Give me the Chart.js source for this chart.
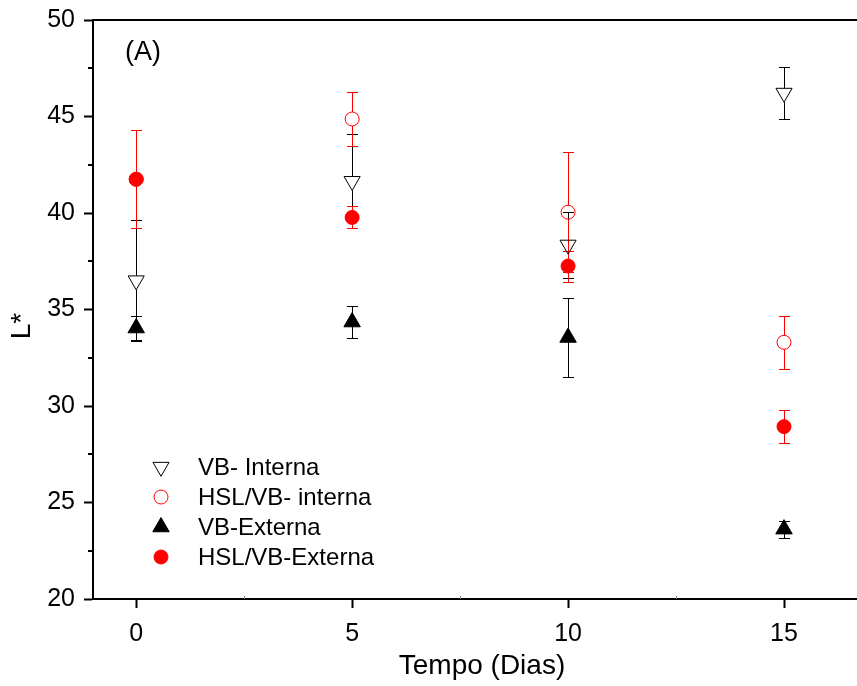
<!DOCTYPE html>
<html><head><meta charset="utf-8">
<script src="https://cdn.jsdelivr.net/npm/chart.js@4.4.1/dist/chart.umd.min.js"></script>
<style>html,body{margin:0;padding:0;background:#fff;overflow:hidden}#wrap{width:857px;height:686px;position:relative}</style>
</head><body><div id="wrap"><canvas id="c" width="857" height="686"></canvas></div>
<script>
// ---- data ----
const days = [0, 5, 10, 15];
const xTicks = [0, 5, 10, 15];
const yTicks = [20, 25, 30, 35, 40, 45, 50];
const seriesNames = ['VB- Interna', 'HSL/VB- interna', 'VB-Externa', 'HSL/VB-Externa'];
const vbInterna = [36.5, 41.65, 38.35, 46.22];
const vbInternaErr = [3.15, 2.43, 1.7, 1.36];
const hslInterna = [41.75, 44.87, 40.04, 33.3];
const hslInternaErr = [2.55, 1.38, 3.1, 1.36];
const vbExterna = [34.04, 34.35, 33.55, 23.62];
const vbExternaErr = [0.62, 0.85, 2.03, 0.44];
const hslExterna = [41.75, 39.77, 37.25, 28.93];
const hslExternaErr = [2.55, 0.57, 0.8, 0.86];
const xTitle = 'Tempo (Dias)';
const yTitle = 'L*';
const panelLabel = '(A)';

// ---- styles ----
const FONT = "'Liberation Sans', Arial, sans-serif";
const styles = [
  {color:'#000000', fill:'rgba(0,0,0,0)', pointStyle:'triangle', rotation:180, radius:9.3, gapUp:4.7, gapDown:9.3, order:3},
  {color:'#ff0000', fill:'rgba(0,0,0,0)', pointStyle:'circle', rotation:0, radius:7, gapUp:7, gapDown:7, order:2},
  {color:'#000000', fill:'#000000', pointStyle:'triangle', rotation:0, radius:9.5, gapUp:0, gapDown:0, order:1},
  {color:'#ff0000', fill:'#ff0000', pointStyle:'circle', rotation:0, radius:7, gapUp:0, gapDown:0, order:0}
];
const values = [vbInterna, hslInterna, vbExterna, hslExterna];
const errors = [vbInternaErr, hslInternaErr, vbExternaErr, hslExternaErr];

const datasets = values.map((vals, k) => ({
  label: seriesNames[k],
  data: days.map((d, i) => ({x: d, y: vals[i]})),
  pointStyle: styles[k].pointStyle,
  rotation: styles[k].rotation,
  pointRadius: styles[k].radius,
  pointHoverRadius: styles[k].radius,
  pointBorderWidth: 1,
  borderColor: styles[k].color,
  backgroundColor: styles[k].fill,
  pointBackgroundColor: styles[k].fill,
  pointBorderColor: styles[k].color,
  showLine: false,
  order: styles[k].order
}));

function drawMarker(ctx, st, x, y) {
  ctx.save();
  ctx.fillStyle = st.fill; ctx.strokeStyle = st.color; ctx.lineWidth = 1;
  ctx.beginPath();
  if (st.pointStyle === 'circle') {
    ctx.arc(x, y, st.radius, 0, Math.PI * 2);
  } else {
    let rad = st.rotation * Math.PI / 180;
    for (let j = 0; j < 3; j++) {
      const px = x + Math.sin(rad) * st.radius, py = y - Math.cos(rad) * st.radius;
      if (j === 0) ctx.moveTo(px, py); else ctx.lineTo(px, py);
      rad += 2 * Math.PI / 3;
    }
    ctx.closePath();
  }
  ctx.fill(); ctx.stroke();
  ctx.restore();
}

const extras = {
  id: 'extras',
  beforeDatasetsDraw(chart) {
    const ctx = chart.ctx, xs = chart.scales.x, ys = chart.scales.y;
    values.forEach((vals, k) => {
      const st = styles[k];
      ctx.save();
      ctx.strokeStyle = st.color; ctx.lineWidth = 1;
      days.forEach((d, i) => {
        const px = Math.round(xs.getPixelForValue(d)) + 0.5;
        const py = ys.getPixelForValue(vals[i]);
        const top = Math.round(ys.getPixelForValue(vals[i] + errors[k][i])) + 0.5;
        const bot = Math.round(ys.getPixelForValue(vals[i] - errors[k][i])) + 0.5;
        ctx.beginPath();
        ctx.moveTo(px, top); ctx.lineTo(px, py - st.gapUp);
        ctx.moveTo(px, py + st.gapDown); ctx.lineTo(px, bot);
        ctx.moveTo(px - 5.5, top); ctx.lineTo(px + 5.5, top);
        ctx.moveTo(px - 5.5, bot); ctx.lineTo(px + 5.5, bot);
        ctx.stroke();
      });
      ctx.restore();
    });
  },
  afterDraw(chart) {
    const ctx = chart.ctx, xs = chart.scales.x, ys = chart.scales.y, ca = chart.chartArea;
    ctx.save();
    // top border
    ctx.strokeStyle = '#000'; ctx.lineWidth = 2;
    ctx.beginPath(); ctx.moveTo(ca.left - 1, ca.top); ctx.lineTo(ca.right, ca.top); ctx.stroke();
    // minor ticks
    ctx.lineWidth = 2;
    ctx.beginPath();
    for (let v = 22.5; v < 50; v += 5) {
      const py = Math.round(ys.getPixelForValue(v));
      ctx.moveTo(ca.left, py); ctx.lineTo(ca.left - 5, py);
    }
    ctx.stroke();
    ctx.strokeStyle = '#888'; ctx.lineWidth = 1;
    ctx.beginPath();
    for (let v = 2.5; v < 17; v += 5) {
      const px = Math.round(xs.getPixelForValue(v)) + 0.5;
      ctx.moveTo(px, ca.bottom); ctx.lineTo(px, ca.bottom - 3);
    }
    ctx.stroke();
    // texts
    ctx.fillStyle = '#000';
    ctx.textAlign = 'center'; ctx.textBaseline = 'middle';
    ctx.font = '28px ' + FONT;
    ctx.fillText(xTitle, 482, 666);
    ctx.save();
    ctx.translate(22, 326); ctx.rotate(-Math.PI / 2);
    ctx.fillText(yTitle, 0, 0);
    ctx.restore();
    ctx.textAlign = 'left';
    ctx.font = '27px ' + FONT;
    ctx.fillText(panelLabel, 125, 53);
    // legend
    ctx.font = '24px ' + FONT;
    seriesNames.forEach((name, k) => {
      const y = 467 + k * 30;
      drawMarker(ctx, styles[k], 161, y);
      ctx.fillStyle = '#000';
      ctx.fillText(name, 198, y + 1);
    });
    ctx.restore();
  }
};

new Chart(document.getElementById('c'), {
  type: 'scatter',
  data: {datasets},
  options: {
    responsive: false,
    animation: false,
    devicePixelRatio: 1,
    layout: {autoPadding: false, padding: {top: 20, right: 0, left: 0, bottom: 0}},
    plugins: {legend: {display: false}, tooltip: {enabled: false}},
    scales: {
      x: {
        type: 'linear', min: -1, max: 16.69,
        afterBuildTicks: s => { s.ticks = xTicks.map(v => ({value: v})); },
        afterFit: s => { s.height = 87; s.paddingRight = 0; s.paddingLeft = 0; },
        ticks: {color: '#000', font: {size: 25, family: FONT}, padding: 11, maxRotation: 0},
        grid: {display: true, drawOnChartArea: false, drawTicks: true, tickLength: 9, tickWidth: 2, tickColor: '#000'},
        border: {display: true, color: '#000', width: 2}
      },
      y: {
        type: 'linear', min: 20, max: 50,
        afterBuildTicks: s => { s.ticks = yTicks.map(v => ({value: v})); },
        afterFit: s => { s.width = 93; s.paddingTop = 0; s.paddingBottom = 0; },
        ticks: {color: '#000', font: {size: 25, family: FONT}, padding: 9},
        grid: {display: true, drawOnChartArea: false, drawTicks: true, tickLength: 9, tickWidth: 2, tickColor: '#000'},
        border: {display: true, color: '#000', width: 2}
      }
    }
  },
  plugins: [extras]
});
</script>
</body></html>
